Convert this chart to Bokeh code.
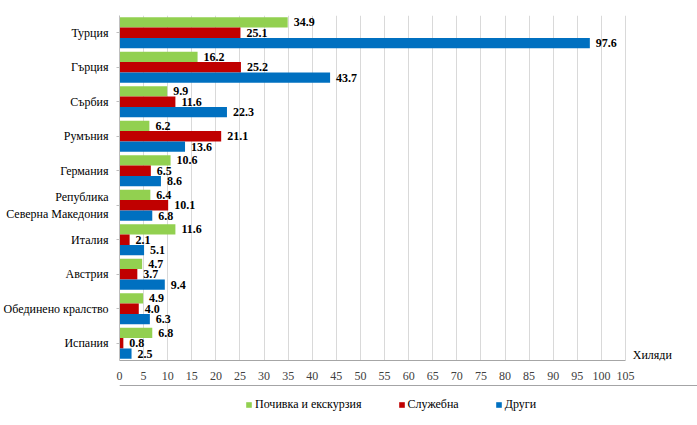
from bokeh.plotting import figure
from bokeh.models import ColumnDataSource, FactorRange, Range1d, Legend, LegendItem, FixedTicker
from bokeh.layouts import column
from bokeh.transform import dodge
from bokeh.core.properties import value
from bokeh.embed import file_html
from bokeh.resources import INLINE

countries = ["Турция", "Гърция", "Сърбия", "Румъния", "Германия",
             "Република\nСеверна Македония", "Италия", "Австрия",
             "Обединено кралство", "Испания"]
leisure = [34.9, 16.2, 9.9, 6.2, 10.6, 6.4, 11.6, 4.7, 4.9, 6.8]
business = [25.1, 25.2, 11.6, 21.1, 6.5, 10.1, 2.1, 3.7, 4.0, 0.8]
other = [97.6, 43.7, 22.3, 13.6, 8.6, 6.8, 5.1, 9.4, 6.3, 2.5]
series_names = ["Почивка и екскурзия", "Служебна", "Други"]
x_ticks = list(range(0, 106, 5))
unit_label = "Хиляди"

colors = ["#92D050", "#C00000", "#0070C0"]
FONT = "'Liberation Serif', 'Times New Roman', serif"

src = ColumnDataSource(dict(
    y=countries, leisure=leisure, business=business, other=other,
    l_lab=[f"{v:.1f}" for v in leisure],
    b_lab=[f"{v:.1f}" for v in business],
    o_lab=[f"{v:.1f}" for v in other],
))

p = figure(frame_width=554, frame_height=345,
           y_range=FactorRange(*countries[::-1], range_padding=0),
           x_range=Range1d(0, 105 * 554 / 506),
           output_backend="svg", toolbar_location=None,
           min_border_left=119, min_border_right=24, min_border_top=15, min_border_bottom=25)
p.outline_line_color = None
p.background_fill_color = "white"
p.border_fill_color = "white"

fields = ["leisure", "business", "other"]
labs = ["l_lab", "b_lab", "o_lab"]
offsets = [0.3, 0.0, -0.3]
for f, lab, off, c in zip(fields, labs, offsets, colors):
    p.hbar(y=dodge("y", off, range=p.y_range), right=f, left=0, height=0.3,
           source=src, fill_color=c, line_color=None)
    p.text(x=f, y=dodge("y", off, range=p.y_range), text=lab, source=src,
           x_offset=6, text_baseline="middle", text_align="left",
           text_font=value(FONT), text_font_style="bold", text_font_size="12px",
           text_color="black")

# unit label at the right end of the value axis
p.text(x=[106.5], y=[countries[-1]], text=[unit_label], y_offset=12,
       text_baseline="middle", text_align="left",
       text_font=value(FONT), text_font_size="12px", text_color="black")

p.xaxis.ticker = FixedTicker(ticks=x_ticks)
p.xaxis.bounds = (0, 105)
p.xgrid.ticker = FixedTicker(ticks=x_ticks)
p.xgrid.grid_line_color = "#D9D9D9"
p.ygrid.grid_line_color = None

p.xaxis.axis_line_color = "#A6A6A6"
p.xaxis.major_tick_line_color = None
p.xaxis.minor_tick_line_color = None
p.xaxis.major_label_text_font = FONT
p.xaxis.major_label_text_font_size = "12px"
p.xaxis.major_label_text_color = "#404040"
p.xaxis.major_label_standoff = 5

p.yaxis.axis_line_color = "#BFBFBF"
p.yaxis.major_tick_line_color = "#BFBFBF"
p.yaxis.major_tick_out = 3
p.yaxis.major_tick_in = 0
p.yaxis.minor_tick_line_color = None
p.yaxis.major_label_text_font = FONT
p.yaxis.major_label_text_font_size = "12px"
p.yaxis.major_label_text_color = "black"
p.yaxis.major_label_standoff = 8

# legend strip below the chart (its swatch renderers sit outside the strip's visible range)
leg = figure(frame_width=697, frame_height=38, x_range=Range1d(0, 1), y_range=Range1d(0, 1),
             output_backend="svg", toolbar_location=None,
             min_border_left=0, min_border_right=0, min_border_top=0, min_border_bottom=0)
leg.axis.visible = False
leg.grid.visible = False
leg.outline_line_color = None
leg.background_fill_color = "white"
leg.border_fill_color = "white"
leg_src = ColumnDataSource(dict(y=[5], r=[5]))
leg_renderers = [leg.hbar(y="y", right="r", left=0, height=0.1, source=leg_src,
                          fill_color=c, line_color=None)
                 for c in colors]
legend = Legend(items=[LegendItem(label=n, renderers=[r]) for n, r in zip(series_names, leg_renderers)],
                orientation="horizontal", location=(245, 11),
                glyph_width=7, glyph_height=7, label_standoff=3, spacing=36,
                padding=0, margin=0, border_line_color=None, background_fill_alpha=0,
                label_text_font=FONT, label_text_font_size="12px", label_text_color="black",
                label_height=14)
leg.add_layout(legend, "center")

open("out.html", "w").write(file_html(column(p, leg, spacing=0), INLINE))
